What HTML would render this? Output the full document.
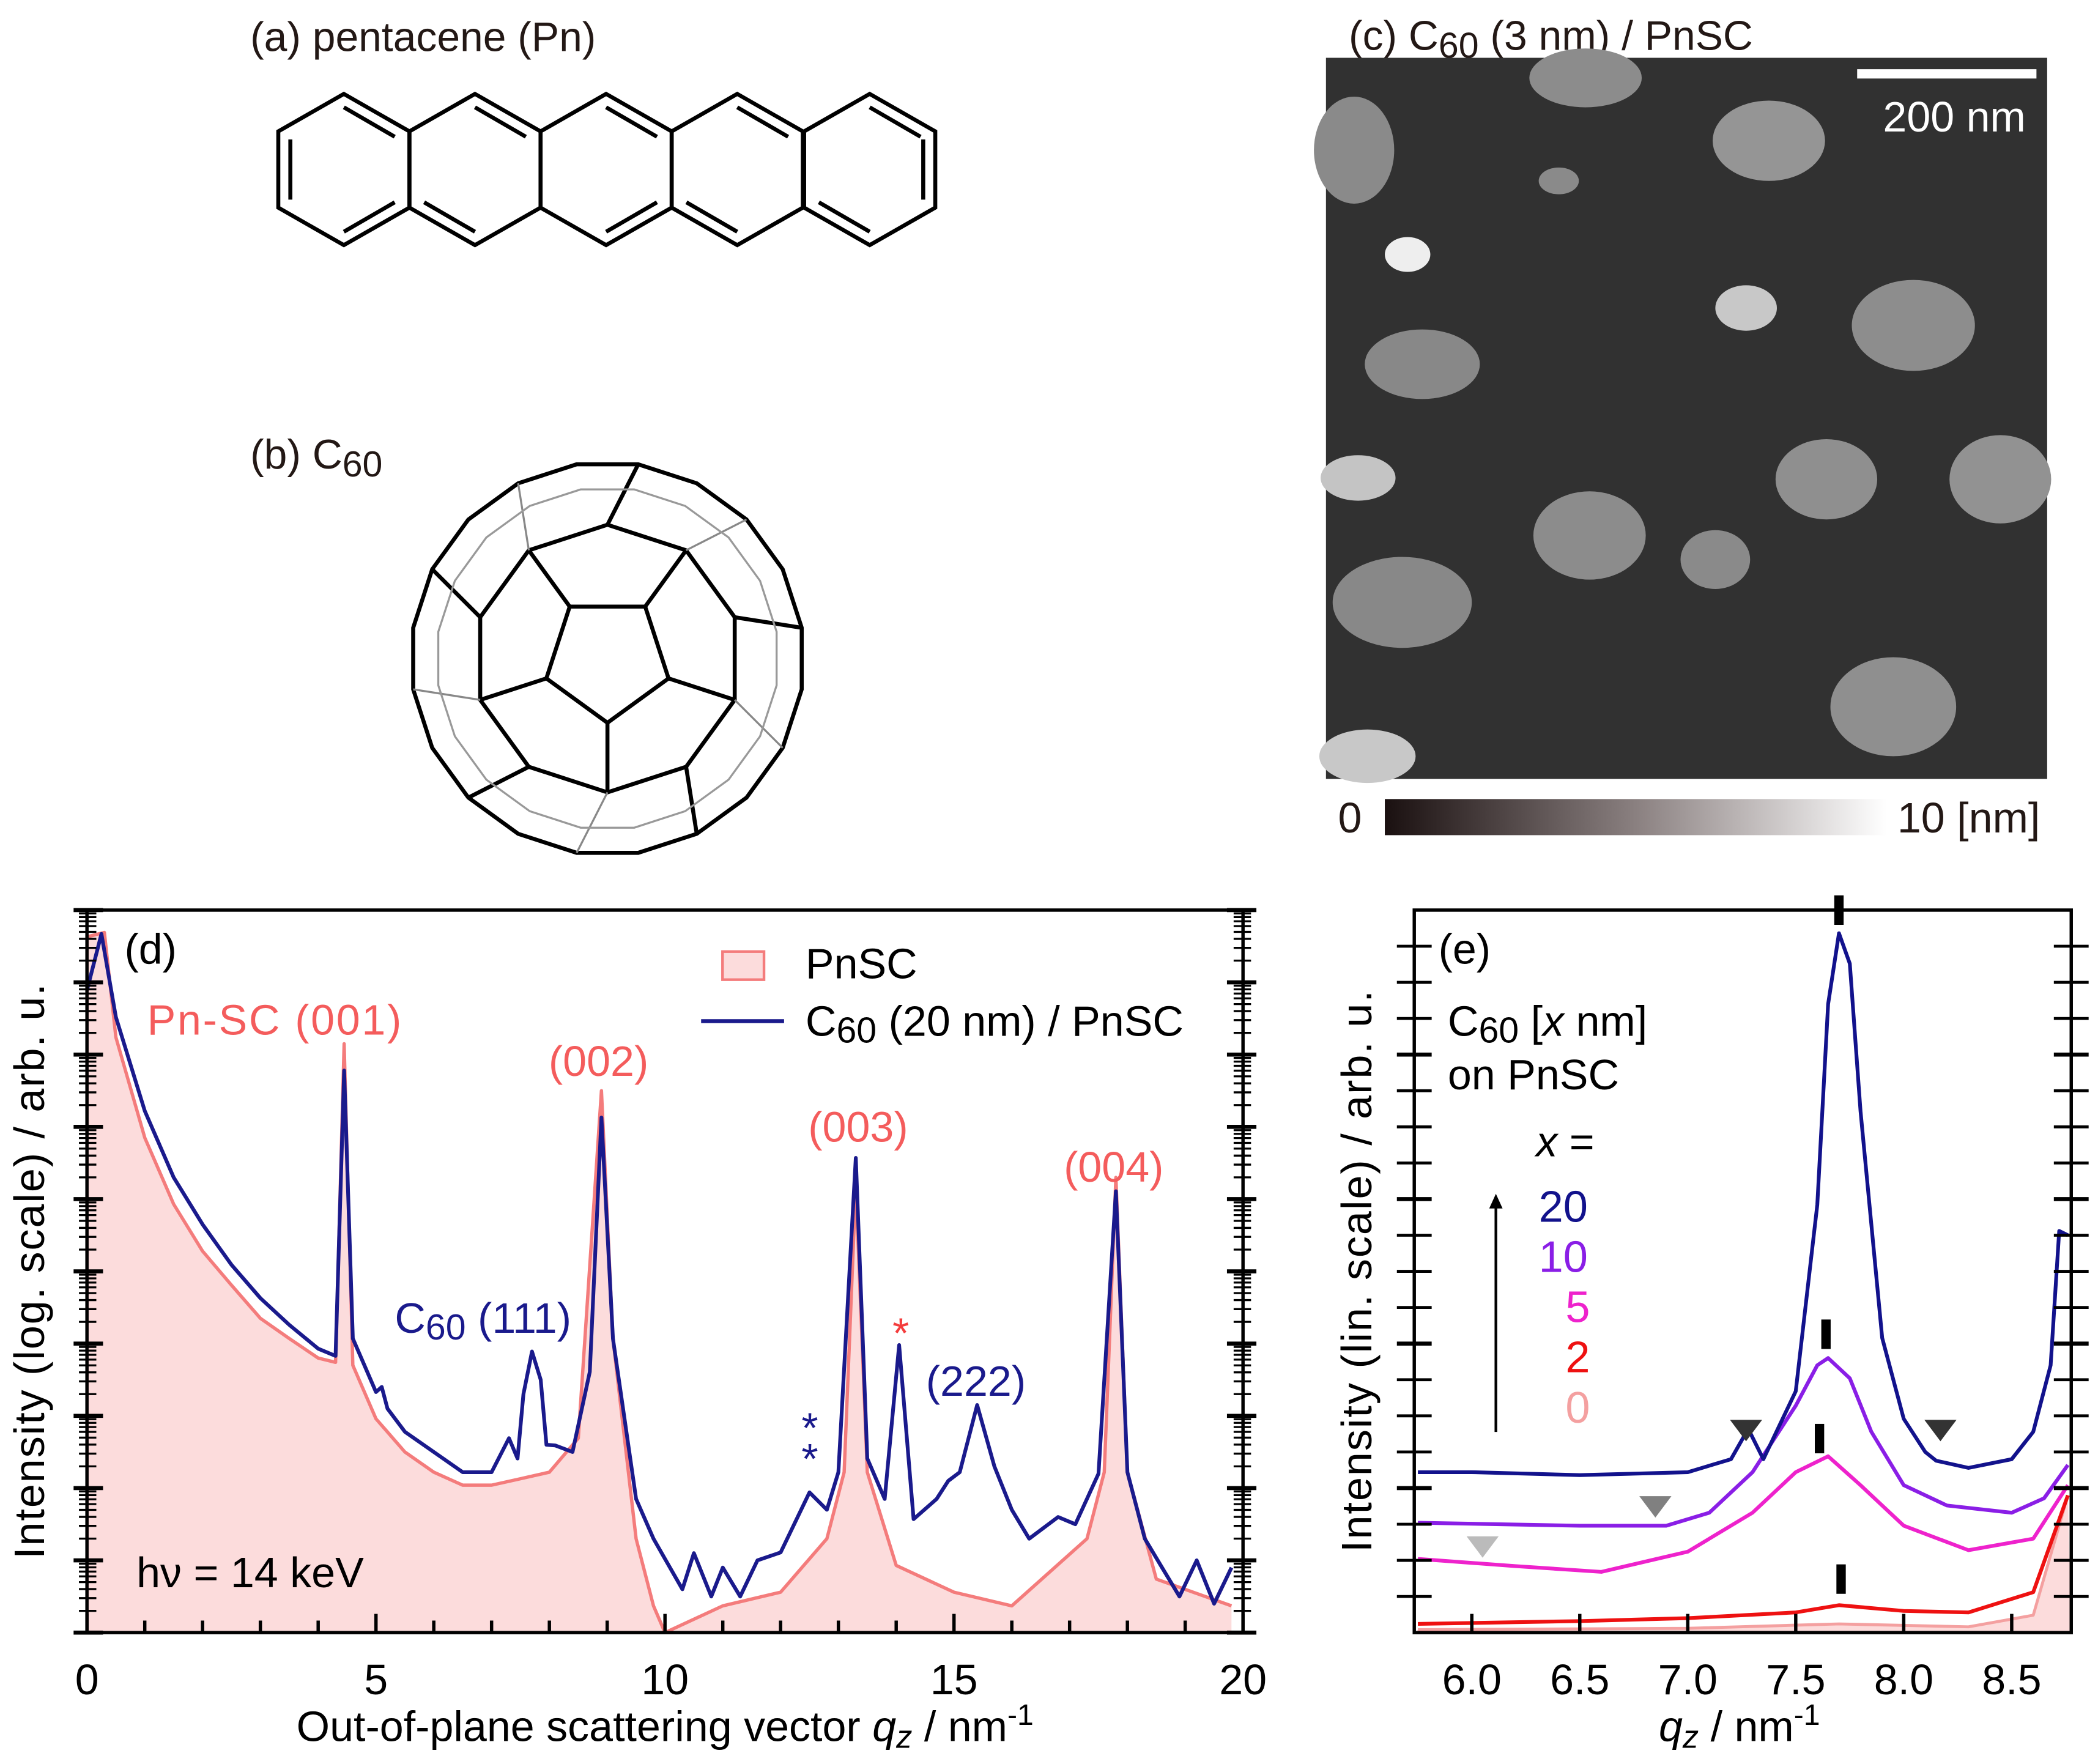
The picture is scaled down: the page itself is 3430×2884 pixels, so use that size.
<!DOCTYPE html>
<html><head><meta charset="utf-8"><style>
html,body{margin:0;padding:0;background:#fff;}
svg{display:block;font-family:"Liberation Sans",sans-serif;}
</style></head><body>
<svg id="fig" xmlns="http://www.w3.org/2000/svg" width="3430" height="2884" viewBox="0 0 1568 1318">
<g id="pa">
 <text x="187" y="38" font-size="31" fill="#231815">(a) pentacene (Pn)</text>
</g>
<g id="pb">
 <text x="187" y="350" font-size="31" fill="#231815">(b) C<tspan font-size="27" dy="6">60</tspan></text>
</g>
<g id="pc">
 <text x="1008" y="37" font-size="31" fill="#231815">(c) C<tspan font-size="27" dy="6">60</tspan><tspan dy="-6"> (3 nm) / PnSC</tspan></text>
 <rect x="991" y="43" width="539" height="539" fill="#313131"/>
 <g id="islands"></g>
 <line x1="1388" y1="55" x2="1522" y2="55" stroke="#fff" stroke-width="7"/>
 <text x="1514" y="98" font-size="32" fill="#fff" text-anchor="end">200 nm</text>
 <defs><linearGradient id="cb" x1="0" x2="1" y1="0" y2="0"><stop offset="0" stop-color="#1a1010"/><stop offset="0.5" stop-color="#8a8080"/><stop offset="1" stop-color="#fff"/></linearGradient></defs>
 <rect x="1035" y="597" width="375" height="27" fill="url(#cb)"/>
 <text x="1000" y="622" font-size="32" fill="#231815">0</text>
 <text x="1418" y="622" font-size="32" fill="#231815">10 [nm]</text>
</g>
<g id="pd"></g>
<g id="pe"></g>
</svg>
<script>
// ===== Panel (d) data: q (nm^-1) and log10 intensity (decades above axis bottom)
const dBlueQ = [0,0.25,0.5,1,1.5,2,2.5,3,3.5,4,4.3,4.45,4.6,5,5.1,5.2,5.5,6,6.5,7,7.3,7.45,7.55,7.7,7.85,7.95,8.1,8.4,8.7,8.9,9.1,9.5,9.8,10,10.3,10.5,10.8,11,11.3,11.6,12,12.5,12.8,13,13.3,13.5,13.8,14.05,14.3,14.7,14.9,15.1,15.4,15.7,16,16.3,16.8,17.1,17.5,17.8,18,18.3,18.6,18.9,19.2,19.5,19.8];
const dBlueLog = [8.89,9.67,8.52,7.22,6.30,5.65,5.09,4.63,4.26,3.93,3.83,7.78,4.07,3.33,3.4,3.1,2.78,2.5,2.22,2.22,2.69,2.41,3.3,3.89,3.5,2.6,2.59,2.5,3.61,7.13,4.07,1.85,1.3,1.02,0.6,1.1,0.5,0.9,0.5,1.0,1.11,1.94,1.7,2.22,6.57,2.41,1.85,3.98,1.57,1.85,2.1,2.22,3.15,2.3,1.7,1.3,1.6,1.5,2.2,6.11,2.22,1.3,0.9,0.5,1.0,0.4,0.9];
const dPinkQ = [0,0.3,0.5,1,1.5,2,2.5,3,3.5,4,4.3,4.45,4.6,5,5.5,6,6.5,7,7.5,8,8.5,8.9,9.1,9.5,9.8,10,11,12,12.8,13.1,13.3,13.5,14,15,16,17.3,17.6,17.8,18,18.5,19.8];
const dPinkLog = [9.63,9.69,8.24,6.85,5.93,5.28,4.81,4.35,4.07,3.80,3.74,8.15,3.70,2.96,2.5,2.22,2.04,2.04,2.13,2.22,2.69,7.5,4.07,1.30,0.37,0,0.37,0.56,1.30,2.22,6.20,2.22,0.93,0.56,0.37,1.30,2.22,6.30,2.22,0.74,0.37];
const dXTicks = [0,5,10,15,20];
const dDecades = [0,1,2,3,4,5,6,7,8,9,10];
// ===== Panel (e) data: q and linear intensity (arb.)
const eBlueQ = [5.75,6.0,6.5,7.0,7.2,7.28,7.35,7.5,7.6,7.65,7.7,7.75,7.8,7.9,8.0,8.1,8.15,8.3,8.5,8.6,8.68,8.72,8.76];
const eBlueV = [1.11,1.11,1.09,1.11,1.20,1.41,1.20,1.67,2.96,4.35,4.84,4.63,3.61,2.04,1.48,1.25,1.19,1.14,1.20,1.39,1.85,2.78,2.75];
const ePurpQ = [5.75,6.5,6.9,7.1,7.3,7.5,7.6,7.65,7.75,7.85,8.0,8.2,8.5,8.65,8.76];
const ePurpV = [0.76,0.74,0.74,0.83,1.11,1.57,1.85,1.90,1.76,1.39,1.02,0.88,0.83,0.93,1.16];
const eMagQ = [5.75,6.2,6.6,7.0,7.3,7.5,7.65,7.8,8.0,8.3,8.6,8.76];
const eMagV = [0.51,0.46,0.42,0.56,0.83,1.11,1.22,1.02,0.74,0.57,0.65,1.02];
const eRedQ = [5.75,6.5,7.0,7.5,7.7,8.0,8.3,8.6,8.76];
const eRedV = [0.06,0.08,0.10,0.14,0.19,0.15,0.14,0.28,0.95];
const ePinkQ = [5.75,7.0,7.7,8.3,8.6,8.76];
const ePinkV = [0.02,0.03,0.06,0.04,0.12,0.95];
const eXTicks = [6.0,6.5,7.0,7.5,8.0,8.5];
const eXTickLabels = ["6.0","6.5","7.0","7.5","8.0","8.5"];
const eLegendLabels = ["20","10","5","2","0"];

const NS="http://www.w3.org/2000/svg";
function mk(parent,tag,attrs){const e=document.createElementNS(NS,tag);for(const k in attrs)e.setAttribute(k,attrs[k]);parent.appendChild(e);return e;}

// ---------- Pentacene
(function(){
 const g=document.getElementById('pa');
 const cxs=[257,355,453,551,650];
 cxs.forEach((cx,i)=>{
  const p=mk(g,'polygon',{points:`${cx},70 ${cx+49},98 ${cx+49},155 ${cx},183 ${cx-49},155 ${cx-49},98`,fill:'none',stroke:'#000','stroke-width':3});
  
  
 });
 const inner=[[257-40,104,257-40,149],[257,80,257+38,102],[355,80,355+38,102],[453,80,453+38,102],[551,80,551+38,102],[650,80,650+38,102],[650+40,104,650+40,149],[650,173,650-38,151],[257,173,257+38,151],[355,173,355-38,151],[453,173,453+38,151],[551,173,551-38,151]];
 inner.forEach(l=>{const e=mk(g,'line',{x1:l[0],y1:l[1],x2:l[2],y2:l[3],stroke:'#000','stroke-width':3});});
})();

// ---------- C60 simplified
(function(){
 const g=document.getElementById('pb');const cx=454,cy=492;
 function poly(r,n,rot){let pts=[];for(let i=0;i<n;i++){const a=rot+i*2*Math.PI/n;pts.push([cx+r*Math.cos(a),cy+r*Math.sin(a)]);}return pts;}
 const outer=poly(147,20,-Math.PI/2+Math.PI/20);
 let e=mk(g,'polygon',{points:outer.map(p=>p.join(',')).join(' '),fill:'none',stroke:'#000','stroke-width':3});
 
 const pentR=poly(48,5,Math.PI/2);
 e=mk(g,'polygon',{points:pentR.map(p=>p.join(',')).join(' '),fill:'none',stroke:'#000','stroke-width':3});
 
 const ring=poly(100,10,-Math.PI/2);
 e=mk(g,'polygon',{points:ring.map(p=>p.join(',')).join(' '),fill:'none',stroke:'#000','stroke-width':3});
 
 for(let i=0;i<5;i++){const a=pentR[i];const b=ring[(2*i+5)%10];
  e=mk(g,'line',{x1:a[0],y1:a[1],x2:b[0],y2:b[1],stroke:'#000','stroke-width':3});}
 for(let i=0;i<10;i++){const a=ring[i];const b=outer[(2*i)%20];
  e=mk(g,'line',{x1:a[0],y1:a[1],x2:b[0],y2:b[1],stroke:i%2?'#888':'#000','stroke-width':i%2?1.5:3});}
 const inner2=poly(128,20,-Math.PI/2+Math.PI/20);
 e=mk(g,'polygon',{points:inner2.map(p=>p.join(',')).join(' '),fill:'none',stroke:'#999','stroke-width':1.5});
 
})();

// ---------- AFM islands
(function(){
 const g=document.getElementById('islands');
 const isl=[[1185,58,42,22,'#8c8c8c'],[1012,112,30,40,'#8a8a8a'],[1322,105,42,30,'#959595'],[1165,135,15,10,'#8a8a8a'],[1052,190,17,13,'#eeeeee'],[1305,230,23,17,'#c8c8c8'],[1430,243,46,34,'#8d8d8d'],[1063,272,43,26,'#888'],[1015,357,28,17,'#c4c4c4'],[1365,358,38,30,'#8f8f8f'],[1495,358,38,33,'#929292'],[1188,400,42,33,'#8c8c8c'],[1282,418,26,22,'#8a8a8a'],[1048,450,52,34,'#888'],[1415,528,47,37,'#8f8f8f'],[1022,565,36,20,'#c8c8c8']];
 isl.forEach(s=>{const e=mk(g,'ellipse',{cx:s[0],cy:s[1],rx:s[2],ry:s[3],fill:s[4]});
  });
})();

// ---------- Panel (d)
(function(){
 const g=document.getElementById('pd');
 const L=65,R=929,T=680,B=1220;
 const X=q=>L+(q-0)/(20-0)*(R-L);
 const Y=v=>B-v*(B-T)/10;
 const cl=(v)=>Math.max(T,Math.min(B,v));
 let d=`M${X(dPinkQ[0])},${B} `+dPinkQ.map((q,i)=>`L${X(q).toFixed(1)},${cl(Y(dPinkLog[i])).toFixed(1)}`).join(' ')+` L${X(dPinkQ[dPinkQ.length-1])},${B} Z`;
 let e=mk(g,'path',{d:d,fill:'#fcdcdc',stroke:'none'});
 
 d=dPinkQ.map((q,i)=>(i?'L':'M')+X(q).toFixed(1)+','+cl(Y(dPinkLog[i])).toFixed(1)).join(' ');
 e=mk(g,'path',{d:d,fill:'none',stroke:'#f47c7c','stroke-width':2.5,'stroke-linejoin':'round'});
 
 d=dBlueQ.map((q,i)=>(i?'L':'M')+X(q).toFixed(1)+','+cl(Y(dBlueLog[i])).toFixed(1)).join(' ');
 e=mk(g,'path',{d:d,fill:'none',stroke:'#1a1a8c','stroke-width':2.8,'stroke-linejoin':'round'});
 
 e=mk(g,'rect',{x:L,y:T,width:R-L,height:B-T,fill:'none',stroke:'#000','stroke-width':2.5});
 
 dDecades.forEach(k=>{
  const y=Y(k);
  [[L,1],[R,-1]].forEach(([x0,s])=>{
   e=mk(g,'line',{x1:x0-s*10,y1:y,x2:x0+s*12,y2:y,stroke:'#000','stroke-width':3});
   
   if(k<10)for(let m=2;m<10;m++){const ym=Y(k+Math.log10(m));
    e=mk(g,'line',{x1:x0-s*6,y1:ym,x2:x0+s*7,y2:ym,stroke:'#000','stroke-width':1.5});
    }
  });
 });
 for(let q=0;q<=20;q++){const x=X(q);const maj=q%5===0;
  e=mk(g,'line',{x1:x,y1:B,x2:x,y2:B-(maj?14:9),stroke:'#000','stroke-width':2.5});
  }
 dXTicks.forEach(q=>{e=mk(g,'text',{x:X(q),y:1266,'font-size':32,'text-anchor':'middle',fill:'#000'});e.textContent=String(q);
  });
})();

// ---------- Panel (e)
(function(){
 const g=document.getElementById('pe');
 const L=1057,R=1548,T=680,B=1220;
 const X=q=>1100+(q-6.0)*161.4;
 const Y=v=>B-v*108;
 let e;
 const line=(qs,vs,col,name,w)=>{const d=qs.map((q,i)=>(i?'L':'M')+X(q).toFixed(1)+','+Y(vs[i]).toFixed(1)).join(' ');
  const p=mk(g,'path',{d:d,fill:'none',stroke:col,'stroke-width':w||2.8,'stroke-linejoin':'round'});};
 let d=`M${L},${B} `+ePinkQ.map((q,i)=>`L${X(q).toFixed(1)},${Y(ePinkV[i]).toFixed(1)}`).join(' ')+` L${R},${B} Z`;
 e=mk(g,'path',{d:d,fill:'#fcdcdc'});
 line(ePinkQ,ePinkV,'#f4a0a0','x0-line',2.2);
 line(eRedQ,eRedV,'#ee1111','x2-line');
 line(eMagQ,eMagV,'#ee22cc','x5-line');
 line(ePurpQ,ePurpV,'#8a1ee6','x10-line');
 line(eBlueQ,eBlueV,'#12128c','x20-line');
 e=mk(g,'rect',{x:L,y:T,width:R-L,height:B-T,fill:'none',stroke:'#000','stroke-width':2.5});
 
 for(let k=1;k<20;k++){const y=B-k*27;const maj=k%4===0;
  [[L,1],[R,-1]].forEach(([x0,s])=>{e=mk(g,'line',{x1:x0-s*13,y1:y,x2:x0+s*13,y2:y,stroke:'#000','stroke-width':maj?3:2.2});
   });}
 eXTicks.forEach((q,i)=>{e=mk(g,'line',{x1:X(q),y1:B,x2:X(q),y2:B-14,stroke:'#000','stroke-width':2.5});
  
  e=mk(g,'text',{x:X(q),y:1266,'font-size':32,'text-anchor':'middle',fill:'#000'});e.textContent=eXTickLabels[i];
  });
 [[7.7,680],[7.64,997],[7.61,1075],[7.71,1180]].forEach(m=>{e=mk(g,'rect',{x:X(m[0])-3.5,y:m[1]-11,width:7,height:22,fill:'#000'});
  });
 [[7.27,1061,'#333'],[8.17,1061,'#333'],[6.85,1118,'#808080'],[6.05,1148,'#bbb']].forEach(t=>{const x=X(t[0]),y=t[1];
  e=mk(g,'polygon',{points:`${x-12},${y} ${x+12},${y} ${x},${y+16}`,fill:t[2]});
  });
 const cols=['#12128c','#8a1ee6','#ee22cc','#ee1111','#f4a0a0'];
 const xs=[1150,1150,1170,1170,1170];
 eLegendLabels.forEach((s,i)=>{e=mk(g,'text',{x:xs[i],y:913+i*37.5,'font-size':33,fill:cols[i]});e.textContent=s;
  });
})();
</script>
<svg style="position:absolute;left:0;top:0" width="3430" height="2884" viewBox="0 0 1568 1318" xmlns="http://www.w3.org/2000/svg" font-family="Liberation Sans, sans-serif">
 <text x="93" y="720" font-size="32">(d)</text>
 <text x="110" y="773" font-size="32" fill="#f45c5c" textLength="190">Pn-SC (001)</text>
 <text x="410" y="804" font-size="32" fill="#f45c5c">(002)</text>
 <text x="604" y="853" font-size="32" fill="#f45c5c">(003)</text>
 <text x="795" y="883" font-size="32" fill="#f45c5c">(004)</text>
 <text x="295" y="996" font-size="32" fill="#1a1a8c">C<tspan font-size="27" dy="5">60</tspan><tspan dy="-5"> (111)</tspan></text>
 <text x="692" y="1043" font-size="32" fill="#1a1a8c">(222)</text>
 <text x="667" y="1007" font-size="32" fill="#f43c3c">*</text>
 <text x="599" y="1078" font-size="32" fill="#1a1a8c">*</text>
 <text x="599" y="1101" font-size="32" fill="#1a1a8c">*</text>
 <text x="102" y="1186" font-size="32">hν = 14 keV</text>
 <rect x="540" y="711" width="31" height="21" fill="#fcdcdc" stroke="#f47c7c" stroke-width="2"/>
 <text x="602" y="731" font-size="32">PnSC</text>
 <line x1="524" y1="763" x2="586" y2="763" stroke="#1a1a8c" stroke-width="3"/>
 <text x="602" y="774" font-size="32">C<tspan font-size="27" dy="5">60</tspan><tspan dy="-5"> (20 nm) / PnSC</tspan></text>
 <text x="497" y="1301" font-size="32" text-anchor="middle">Out-of-plane scattering vector <tspan font-style="italic">q</tspan><tspan font-style="italic" font-size="24" dy="5">z</tspan><tspan dy="-5"> / nm</tspan><tspan font-size="22" dy="-12">-1</tspan></text>
 <text transform="translate(33,950) rotate(-90)" font-size="32" text-anchor="middle" textLength="430">Intensity (log. scale) / arb. u.</text>
 <text x="1075" y="720" font-size="32">(e)</text>
 <text x="1082" y="774" font-size="32">C<tspan font-size="27" dy="5">60</tspan><tspan dy="-5"> [</tspan><tspan font-style="italic">x</tspan> nm]</text>
 <text x="1082" y="814" font-size="32">on PnSC</text>
 <text x="1148" y="864" font-size="32"><tspan font-style="italic">x</tspan> =</text>
 <line x1="1118" y1="1070" x2="1118" y2="900" stroke="#000" stroke-width="2"/>
 <polygon points="1113,903 1123,903 1118,892" fill="#000"/>
 <text x="1300" y="1301" font-size="32" text-anchor="middle"><tspan font-style="italic">q</tspan><tspan font-style="italic" font-size="24" dy="5">z</tspan><tspan dy="-5"> / nm</tspan><tspan font-size="22" dy="-12">-1</tspan></text>
 <text transform="translate(1025,950) rotate(-90)" font-size="32" text-anchor="middle" textLength="420">Intensity (lin. scale) / arb. u.</text>
</svg>
</body></html>
